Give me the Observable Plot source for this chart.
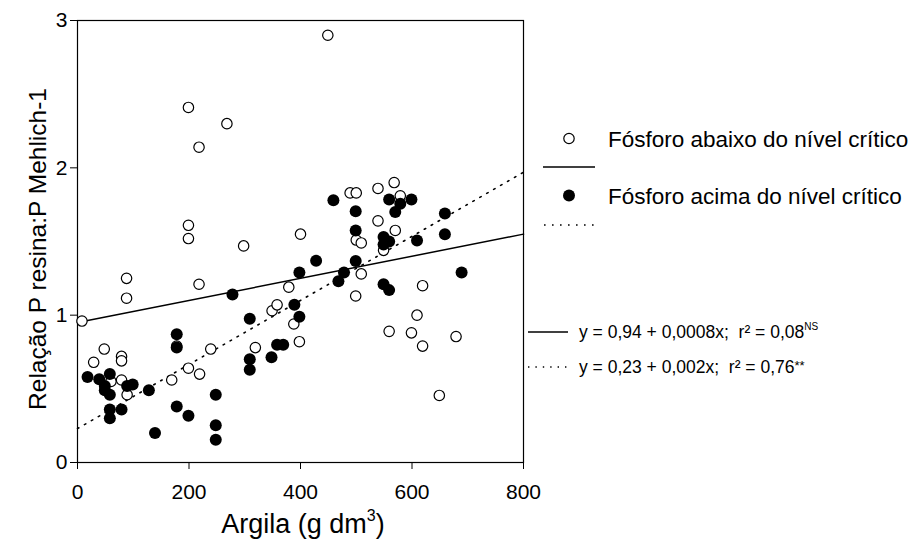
<!DOCTYPE html>
<html>
<head>
<meta charset="utf-8">
<script src="https://cdn.jsdelivr.net/npm/d3@7"></script>
<script src="https://cdn.jsdelivr.net/npm/@observablehq/plot@0.6"></script>
<style>
  html, body { margin: 0; padding: 0; background: #fff; }
  svg text { font-family: 'Liberation Sans', Arial, sans-serif; }
</style>
</head>
<body>
<div id="chart"></div>
<script>
// Fósforo abaixo do nível crítico (open circles)
const openX = [8, 29, 48, 60, 79, 79, 79, 89, 88, 88, 169, 178, 199, 199, 199, 199, 218, 218, 219, 239, 268, 298, 319, 349, 358, 379, 388, 398, 400, 449, 489, 500, 499, 500, 509, 509, 539, 539, 549, 559, 568, 570, 579, 599, 609, 619, 619, 649, 679];
const openY = [0.96, 0.68, 0.77, 0.55, 0.72, 0.69, 0.56, 0.46, 1.25, 1.115, 0.56, 0.79, 0.64, 2.41, 1.61, 1.52, 2.14, 1.21, 0.60, 0.77, 2.30, 1.47, 0.78, 1.03, 1.07, 1.19, 0.94, 0.82, 1.55, 2.90, 1.83, 1.83, 1.13, 1.51, 1.49, 1.28, 1.86, 1.64, 1.44, 0.89, 1.90, 1.575, 1.81, 0.88, 1.00, 1.20, 0.79, 0.455, 0.855];

// Fósforo acima do nível crítico (filled circles)
const filledX = [18, 39, 49, 49, 58, 58, 58, 58, 79, 89, 99, 128, 139, 178, 178, 178, 199, 248, 248, 248, 278, 309, 309, 309, 348, 358, 369, 389, 398, 398, 428, 459, 468, 478, 499, 499, 499, 549, 549, 549, 559, 559, 559, 570, 579, 599, 609, 659, 659, 689];
const filledY = [0.58, 0.565, 0.52, 0.49, 0.60, 0.46, 0.36, 0.30, 0.36, 0.52, 0.53, 0.49, 0.20, 0.87, 0.78, 0.38, 0.317, 0.46, 0.253, 0.154, 1.14, 0.975, 0.70, 0.63, 0.715, 0.80, 0.80, 1.07, 0.99, 1.29, 1.37, 1.78, 1.23, 1.29, 1.706, 1.575, 1.367, 1.53, 1.48, 1.21, 1.785, 1.50, 1.17, 1.70, 1.756, 1.785, 1.507, 1.69, 1.55, 1.29];

// Regression lines (endpoints as drawn)
const lineX = [0, 800];
const solidY = [0.95, 1.55];
const dottedY = [0.23, 1.97];

const xTicks = [0, 200, 400, 600, 800];
const yTicks = [0, 1, 2, 3];

const legendLabels = ["Fósforo abaixo do nível crítico", "Fósforo acima do nível crítico"];
const eqSolid = ["y = 0,94 + 0,0008x;  r² = 0,08", "NS"];
const eqDotted = ["y = 0,23 + 0,002x;  r² = 0,76", "**"];
const xLabel = ["Argila (g dm", "3", ")"];
const yLabel = "Relação P resina:P Mehlich-1";

const openData = openX.map((x, i) => ({x, y: openY[i]}));
const filledData = filledX.map((x, i) => ({x, y: filledY[i]}));
const solidData = lineX.map((x, i) => ({x, y: solidY[i]}));
const dottedData = lineX.map((x, i) => ({x, y: dottedY[i]}));

const font = "'Liberation Sans', Arial, sans-serif";

const plot = Plot.plot({
  width: 912,
  height: 542,
  marginLeft: 77,
  marginRight: 389,
  marginTop: 20,
  marginBottom: 80,
  x: {domain: [0, 800]},
  y: {domain: [0, 3]},
  style: {fontFamily: font, fontSize: "21px", color: "black", background: "white"},
  marks: [
    Plot.frame({stroke: "black", strokeWidth: 1.2}),
    Plot.axisX({ticks: xTicks, tickSize: 7, tickPadding: 15, label: null, tickFormat: d => String(d), fontSize: 21}),
    Plot.axisY({ticks: yTicks, tickSize: 7, tickPadding: 3, label: null, tickFormat: d => String(d), fontSize: 21}),
    Plot.line(solidData, {x: "x", y: "y", stroke: "black", strokeWidth: 1.5}),
    Plot.line(dottedData, {x: "x", y: "y", stroke: "black", strokeWidth: 1.6, strokeDasharray: "1.6,6.4"}),
    Plot.dot(openData, {x: "x", y: "y", r: 5.2, fill: "white", stroke: "black", strokeWidth: 1.2}),
    Plot.dot(filledData, {x: "x", y: "y", r: 6, fill: "black", stroke: "none"})
  ]
});

document.getElementById("chart").appendChild(plot);

const svg = d3.select(plot);
const g = svg.append("g").attr("font-family", font).attr("fill", "black").attr("text-anchor", "start");

// Axis titles
const xt = g.append("text").attr("x", 303).attr("y", 533).attr("text-anchor", "middle").attr("font-size", 27);
xt.append("tspan").text(xLabel[0]);
xt.append("tspan").attr("font-size", 16).attr("dy", -12).text(xLabel[1]);
xt.append("tspan").attr("dy", 12).text(xLabel[2]);

g.append("text")
  .attr("transform", "translate(46,249) rotate(-90)")
  .attr("text-anchor", "middle")
  .attr("font-size", 24.5)
  .text(yLabel);

// Legend
g.append("circle").attr("cx", 569).attr("cy", 138.5).attr("r", 5.2).attr("fill", "white").attr("stroke", "black").attr("stroke-width", 1.2);
g.append("text").attr("x", 608).attr("y", 146.5).attr("text-anchor", "start").attr("font-size", 22.5).text(legendLabels[0]);
g.append("line").attr("x1", 543).attr("x2", 595).attr("y1", 167).attr("y2", 167).attr("stroke", "black").attr("stroke-width", 1.5);
g.append("circle").attr("cx", 569).attr("cy", 195.5).attr("r", 6).attr("fill", "black");
g.append("text").attr("x", 608).attr("y", 203.5).attr("text-anchor", "start").attr("font-size", 22.5).text(legendLabels[1]);
g.append("line").attr("x1", 544).attr("x2", 596).attr("y1", 225).attr("y2", 225).attr("stroke", "black").attr("stroke-width", 1.6).attr("stroke-dasharray", "1.6,6.4");

// Equations
g.append("line").attr("x1", 528).attr("x2", 568).attr("y1", 332).attr("y2", 332).attr("stroke", "black").attr("stroke-width", 1.5);
const e1 = g.append("text").attr("x", 579).attr("y", 338).attr("text-anchor", "start").attr("font-size", 17.5).attr("xml:space", "preserve");
e1.append("tspan").text(eqSolid[0]);
e1.append("tspan").attr("font-size", 10).attr("dy", -8).text(eqSolid[1]);

g.append("line").attr("x1", 528).attr("x2", 568).attr("y1", 367).attr("y2", 367).attr("stroke", "black").attr("stroke-width", 1.4).attr("stroke-dasharray", "1.4,6");
const e2 = g.append("text").attr("x", 579).attr("y", 373).attr("text-anchor", "start").attr("font-size", 17.5).attr("xml:space", "preserve");
e2.append("tspan").text(eqDotted[0]);
e2.append("tspan").attr("font-size", 13).attr("dy", -3).text(eqDotted[1]);
</script>
</body>
</html>
